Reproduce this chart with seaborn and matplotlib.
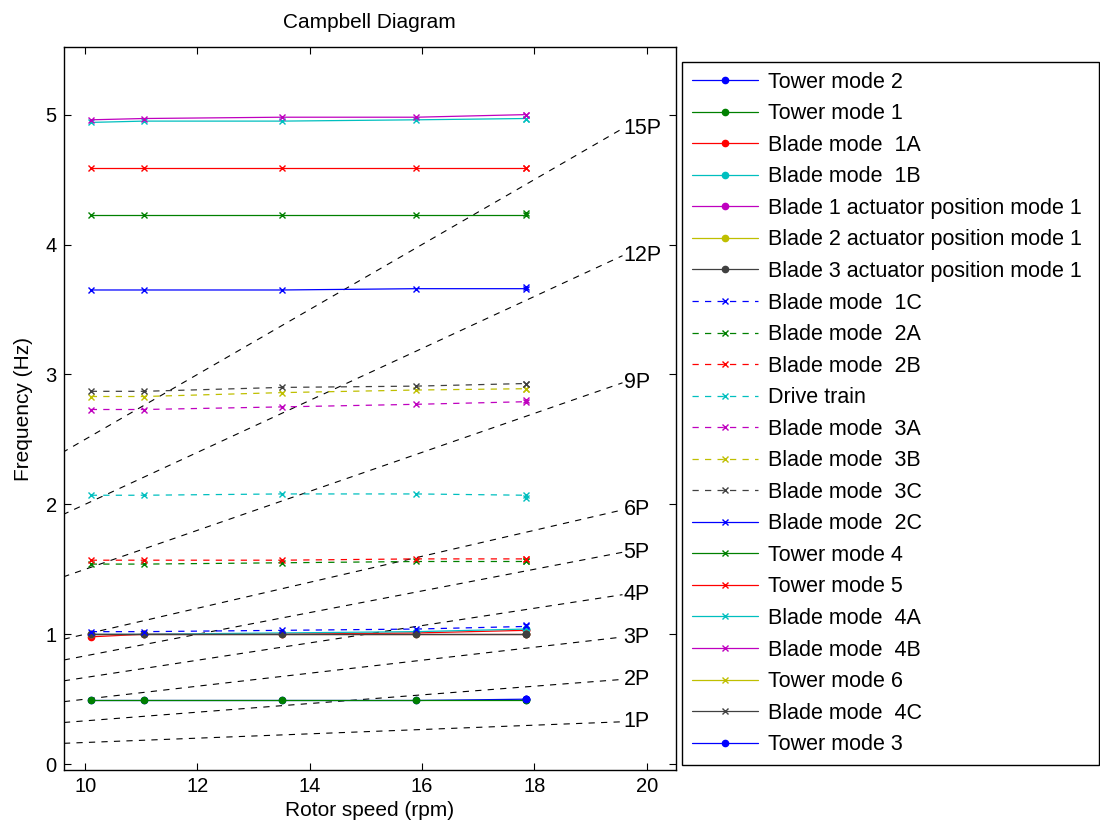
import numpy as np
import pandas as pd
import matplotlib
matplotlib.use("Agg")
import matplotlib.pyplot as plt
import seaborn as sns

# rotor speeds of the operating points (last two share the rated speed)
rotor_speed = [10.1, 11.05, 13.5, 15.9, 17.85, 17.85]

mode_names = [
    "Tower mode 2", "Tower mode 1", "Blade mode  1A", "Blade mode  1B",
    "Blade 1 actuator position mode 1", "Blade 2 actuator position mode 1",
    "Blade 3 actuator position mode 1", "Blade mode  1C", "Blade mode  2A",
    "Blade mode  2B", "Drive train", "Blade mode  3A", "Blade mode  3B",
    "Blade mode  3C", "Blade mode  2C", "Tower mode 4", "Tower mode 5",
    "Blade mode  4A", "Blade mode  4B", "Tower mode 6", "Blade mode  4C",
    "Tower mode 3",
]

nan = np.nan
mode_freqs = [
    [0.49, 0.49, 0.49, 0.49, 0.50, 0.50],   # Tower mode 2
    [0.49, 0.49, 0.49, 0.49, 0.49, 0.49],   # Tower mode 1
    [0.98, 1.00, 1.00, 1.01, 1.03, 1.03],   # Blade 1A
    [1.00, 1.00, 1.01, 1.02, 1.04, 1.04],   # Blade 1B
    [1.00, 1.00, 1.00, 1.00, 1.00, 1.00],   # Blade 1 actuator
    [1.00, 1.00, 1.00, 1.00, 1.00, 1.00],   # Blade 2 actuator
    [1.00, 1.00, 1.00, 1.00, 1.00, 1.00],   # Blade 3 actuator
    [1.02, 1.02, 1.03, 1.04, 1.06, 1.07],   # Blade 1C
    [1.54, 1.54, 1.55, 1.56, 1.56, 1.56],   # Blade 2A
    [1.57, 1.57, 1.57, 1.58, 1.58, 1.58],   # Blade 2B
    [2.07, 2.07, 2.08, 2.08, 2.07, 2.05],   # Drive train
    [2.73, 2.73, 2.75, 2.77, 2.79, 2.80],   # Blade 3A
    [2.83, 2.83, 2.86, 2.88, 2.89, 2.89],   # Blade 3B
    [2.87, 2.87, 2.90, 2.91, 2.93, 2.93],   # Blade 3C
    [3.65, 3.65, 3.65, 3.66, 3.66, 3.67],   # Blade 2C
    [4.23, 4.23, 4.23, 4.23, 4.23, 4.24],   # Tower mode 4
    [4.59, 4.59, 4.59, 4.59, 4.59, 4.59],   # Tower mode 5
    [4.94, 4.95, 4.95, 4.96, 4.97, 4.97],   # Blade 4A
    [4.96, 4.97, 4.98, 4.98, 5.00, 5.00],   # Blade 4B
    [5.90, 5.90, 5.91, 5.92, 5.93, 5.93],   # Tower mode 6 (off chart)
    [6.10, 6.10, 6.11, 6.12, 6.13, 6.13],   # Blade 4C (off chart)
    [nan, nan, nan, nan, 0.50, 0.50],       # Tower mode 3
]

mode_colors = list("bgrcmyk") + list("bgrcmyk") + list("bgrcmyk") + ["b"]
mode_styles = ["-"] * 7 + ["--"] * 7 + ["-"] * 7 + ["-"]
mode_markers = ["o"] * 7 + ["x"] * 7 + ["x"] * 7 + ["o"]

# per-revolution excitation lines
harmonics = [1, 2, 3, 4, 5, 6, 9, 12, 15]
harm_rpm = [9.4, 19.57]

matlab_rgb = {
    "b": (0, 0, 1), "g": (0, 0.5, 0), "r": (1, 0, 0), "c": (0, 0.75, 0.75),
    "m": (0.75, 0, 0.75), "y": (0.75, 0.75, 0), "k": (0.25, 0.25, 0.25),
}

sns.set_style("ticks")
plt.rcParams['font.family'] = ['Liberation Sans', 'DejaVu Sans']
plt.rcParams['lines.scale_dashes'] = False
plt.rcParams['text.color'] = 'black'
plt.rcParams['axes.labelcolor'] = 'black'

fig = plt.figure(figsize=(11, 8.3), dpi=100)
ax = fig.add_axes([0.058, 0.0723, 0.5564, 0.871])

for n in harmonics:
    f = [n * r / 60.0 for r in harm_rpm]
    ax.plot(harm_rpm, f, color="black", lw=0.8, dashes=(4.5, 4.5),
            label="_nolegend_", zorder=1)
    ax.text(harm_rpm[1] + 0.02, f[1], f"{n}P", fontsize=15.5,
            ha="left", va="center", zorder=3)

for name, vals, c, ls, mk in zip(mode_names, mode_freqs, mode_colors,
                                 mode_styles, mode_markers):
    df = pd.DataFrame({"rpm": rotor_speed, "freq": vals}).dropna()
    col = matlab_rgb[c]
    line_kw = dict(color=col, lw=0.9, marker=mk,
                   markersize=5.5 if mk == "o" else 7,
                   markeredgewidth=1.0, markeredgecolor=col,
                   markerfacecolor=col, label=name, zorder=2)
    if ls == "--":
        line_kw["dashes"] = (4.5, 4.5)
    sns.lineplot(data=df, x="rpm", y="freq", estimator=None, sort=False,
                 ax=ax, **line_kw)

ax.set_xlim(9.62, 20.52)
ax.set_ylim(-0.045, 5.52)
ax.set_xticks([10, 12, 14, 16, 18, 20])
ax.set_yticks([0, 1, 2, 3, 4, 5])
ax.tick_params(direction="in", length=5, width=0.8, labelsize=14.5, pad=5,
               top=True, right=True, colors="black")
for sp in ax.spines.values():
    sp.set_color("black")
    sp.set_linewidth(1.0)

ax.set_xlabel("Rotor speed (rpm)", fontsize=15, labelpad=4)
ax.set_ylabel("Frequency (Hz)", fontsize=15, labelpad=9)
ax.set_title("Campbell Diagram", fontsize=15, pad=14)

handles, labels = ax.get_legend_handles_labels()
for h in handles:
    h.set_markersize(4.5 if h.get_marker() == "o" else 5)
leg = ax.legend(handles, labels, loc="upper left",
                bbox_to_anchor=(682 / 1100, 1 - 62 / 830, (1099 - 682) / 1100, 0),
                bbox_transform=fig.transFigure, mode="expand",
                fontsize=15.5, frameon=True, fancybox=False, framealpha=1,
                edgecolor="black", handlelength=3.1, handletextpad=0.45,
                labelspacing=0.49, borderpad=0.45, borderaxespad=0)
leg.get_frame().set_linewidth(1.0)

fig.savefig("out.png", dpi=100)
